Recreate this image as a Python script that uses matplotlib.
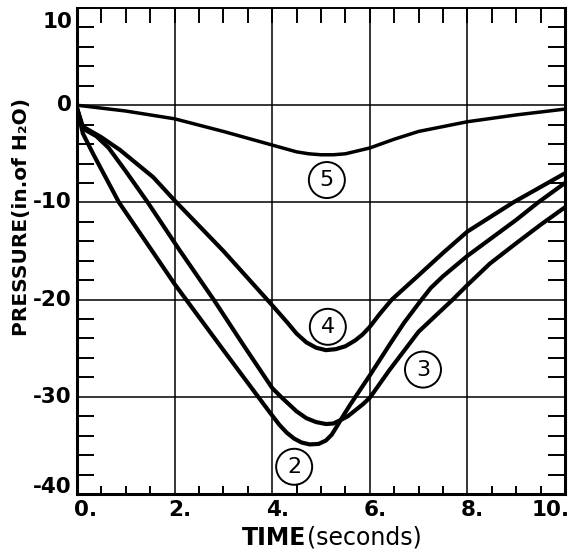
import numpy as np
import matplotlib.pyplot as plt
from matplotlib.ticker import MultipleLocator, FixedLocator
from matplotlib.transforms import offset_copy

# Werte (Zeit in s, Druck in in. H2O)
t2 = [0, 0.12, 0.33, 0.86, 1.5, 2.0, 3.0, 3.95, 4.15, 4.3, 4.45, 4.6, 4.77, 4.95, 5.1,
      5.22, 5.33, 5.45, 5.6, 6.0, 6.41, 6.7, 7.03, 7.25, 7.5, 8.0, 9.0, 9.45, 10]
p2 = [-0.3, -2.9, -5.0, -10.0, -14.7, -18.4, -25.2, -31.6, -32.9, -33.7, -34.3, -34.7,
      -34.9, -34.85, -34.5, -33.9, -33.0, -32.0, -30.8, -27.8, -24.6, -22.4, -20.2,
      -18.8, -17.6, -15.5, -11.8, -10.0, -8.0]

t3 = [0, 0.12, 0.4, 0.65, 1.0, 1.45, 2.1, 2.8, 3.4, 4.0, 4.2, 4.5, 4.7, 4.9, 5.1, 5.25,
      5.4, 5.55, 5.7, 5.85, 6.0, 6.41, 7.0, 7.7, 8.0, 8.46, 9.0, 9.5, 10]
p3 = [-0.3, -2.4, -3.2, -4.4, -6.8, -10.0, -14.9, -20.0, -24.6, -29.1, -30.1, -31.5,
      -32.2, -32.6, -32.8, -32.75, -32.4, -32.0, -31.4, -30.8, -30.1, -27.2, -23.3,
      -20.0, -18.5, -16.3, -14.2, -12.3, -10.5]

t4 = [0, 0.12, 0.5, 0.88, 1.56, 2.0, 3.0, 3.95, 4.3, 4.5, 4.7, 4.9, 5.1, 5.3, 5.5, 5.7,
      5.85, 6.0, 6.2, 6.45, 7.0, 7.5, 8.0, 8.94, 10]
p4 = [-0.3, -2.2, -3.3, -4.6, -7.4, -9.8, -15.0, -20.3, -22.3, -23.5, -24.4, -24.95,
      -25.2, -25.1, -24.8, -24.2, -23.6, -22.8, -21.5, -20.0, -17.5, -15.2, -13.0,
      -10.0, -7.0]

t5 = [0, 1, 2, 3, 4, 4.5, 4.75, 5, 5.25, 5.5, 6, 6.5, 7, 8, 9, 10]
p5 = [0, -0.6, -1.4, -2.7, -4.1, -4.8, -5.0, -5.1, -5.1, -5.0, -4.4, -3.5, -2.7, -1.7,
      -1.0, -0.4]

curve_names = ['2', '3', '4', '5']
label_x = [4.45, 7.09, 5.14, 5.12]
label_y = [-37.2, -27.2, -22.8, -7.7]

x_ticks = [0, 2, 4, 6, 8, 10]
x_tick_labels = ['0.', '2.', '4.', '6.', '8.', '10.']
y_ticks = [10, 0, -10, -20, -30, -40]
y_tick_labels = ['10', '0', '-10', '-20', '-30', '-40']

plt.rcParams['font.family'] = 'DejaVu Sans'

fig = plt.figure(figsize=(5.73, 5.53), dpi=100)
ax = fig.add_axes([77/573, 59/553, 488/573, 486/553])

ax.set_xlim(0, 10)
ax.set_ylim(-40, 10)

# Gitter an den Hauptteilungen
ax.xaxis.set_major_locator(FixedLocator([2, 4, 6, 8]))
ax.yaxis.set_major_locator(FixedLocator([0, -10, -20, -30]))
ax.grid(True, which='major', color='black', lw=1.1)
ax.tick_params(which='major', length=0, labelbottom=False, labelleft=False)

ax.xaxis.set_minor_locator(MultipleLocator(0.5))
ax.yaxis.set_minor_locator(MultipleLocator(2))
ax.tick_params(which='minor', axis='x', direction='in', length=6, width=1.4,
               top=False, bottom=True)
ax.tick_params(which='minor', axis='y', direction='in', length=12, width=1.4,
               left=True, right=True)

# oben laengere Striche
top = ax.secondary_xaxis('top')
top.xaxis.set_major_locator(FixedLocator([]))
top.xaxis.set_minor_locator(MultipleLocator(0.5))
top.tick_params(which='minor', direction='in', length=11, width=1.4)
top.tick_params(which='major', length=0, labeltop=False)
top.spines['top'].set_linewidth(1.2)

for side in ['left', 'bottom', 'right']:
    ax.spines[side].set_linewidth(2.2)
ax.spines['top'].set_linewidth(1.2)

for t, p, lw in [(t2, p2, 3.0), (t3, p3, 3.0), (t4, p4, 3.0), (t5, p5, 2.5)]:
    ax.plot(t, p, color='black', lw=lw, solid_joinstyle='round',
            solid_capstyle='round', zorder=3)

# Kreise mit Kurvennummern
for name, lx, ly in zip(curve_names, label_x, label_y):
    ax.text(lx, ly, name, ha='center', va='center', fontsize=16,
            bbox=dict(boxstyle='circle,pad=0.36', fc='white', ec='black', lw=1.4),
            zorder=5)
# Strich vom Kreis 2 zur Achse
ax.plot([label_x[0] + 0.05, label_x[0] + 0.05], [label_y[0] - 1.9, -40],
        color='black', lw=1.4, zorder=4)

# Achsenbeschriftungen
xt = ax.get_xaxis_transform()
for i, (xv, lab) in enumerate(zip(x_ticks, x_tick_labels)):
    if i == 0:
        ha, dx = 'left', -3
    elif i == len(x_ticks) - 1:
        ha, dx = 'right', 5
    else:
        ha, dx = 'center', 5
    tr = offset_copy(xt, fig=fig, x=dx, y=-6, units='dots')
    ax.text(xv, 0, lab, transform=tr, ha=ha, va='top', fontsize=15.5,
            fontweight='bold', clip_on=False)

yt = ax.get_yaxis_transform()
for i, (yv, lab) in enumerate(zip(y_ticks, y_tick_labels)):
    va = 'center'
    dy = 0
    if i == 0:
        va, dy = 'top', -4
    elif i == len(y_ticks) - 1:
        va, dy = 'bottom', -3
    tr = offset_copy(yt, fig=fig, x=-5, y=dy, units='dots')
    ax.text(0, yv, lab, transform=tr, ha='right', va=va, fontsize=15.5,
            fontweight='bold', clip_on=False)

fig.text(22/573, 1 - 217/553, 'PRESSURE(in.of H\u2082O)', rotation=90,
         ha='center', va='center', fontsize=14.5, fontweight='bold')
fig.text(306/573, 1 - 545/553, 'TIME', ha='right', va='baseline',
         fontsize=17, fontweight='bold')
fig.text(307/573, 1 - 545/553, '(seconds)', ha='left', va='baseline',
         fontsize=17)

fig.savefig('out.png', dpi=100)
